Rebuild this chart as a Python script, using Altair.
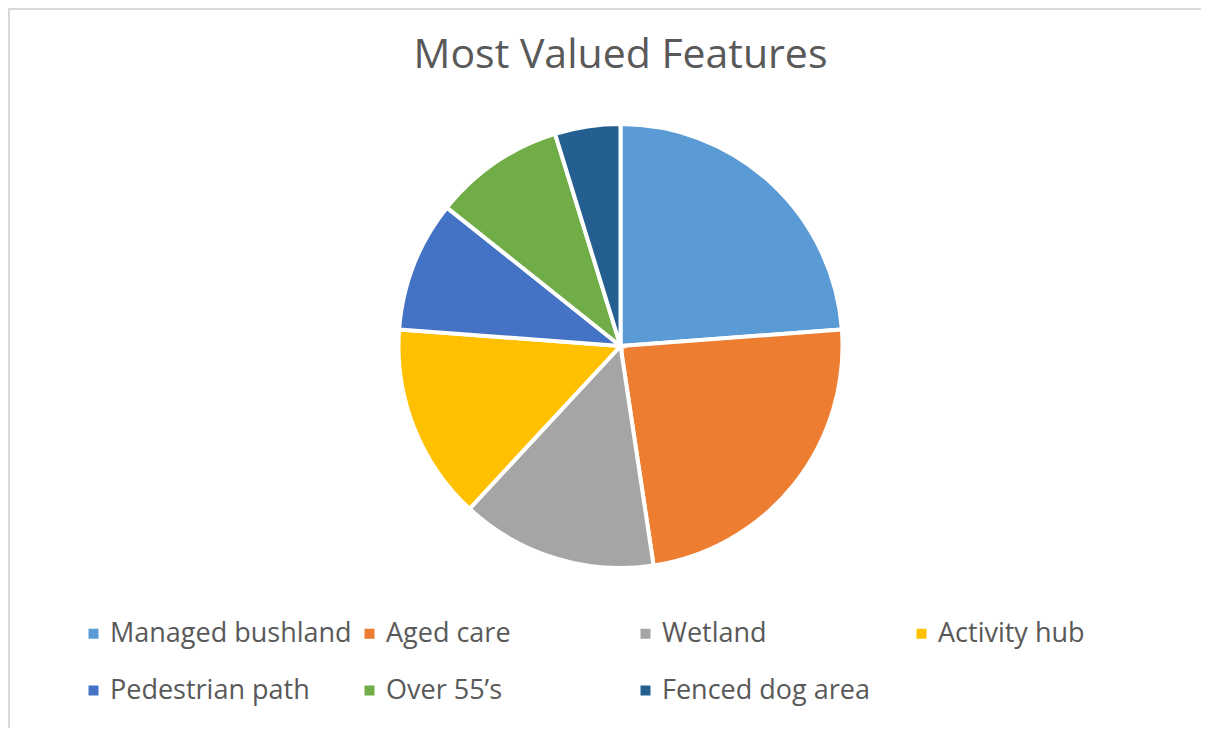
import altair as alt
import pandas as pd

categories = ["Managed bushland", "Aged care", "Wetland", "Activity hub",
              "Pedestrian path", "Over 55\u2019s", "Fenced dog area"]
values = [5, 5, 3, 3, 2, 2, 1]
colors = ["#5B9BD5", "#ED7D31", "#A5A5A5", "#FFC000", "#4472C4", "#70AD47", "#255E91"]
title_text = "Most Valued Features"

df = pd.DataFrame({"feature": categories, "value": values, "order": list(range(len(categories)))})

W, H = 1193, 720
CX, CY, R = 612.5, 338, 222
FONT = "Open Sans"

pie = alt.Chart(df).mark_arc(radius=R, stroke="white", strokeWidth=4).encode(
    theta=alt.Theta("value:Q", stack=True),
    order=alt.Order("order:Q"),
    x=alt.value(CX),
    y=alt.value(CY),
    color=alt.Color(
        "feature:N",
        scale=alt.Scale(domain=categories, range=colors),
        sort=None,
        legend=alt.Legend(
            title=None,
            orient="none",
            legendX=72,
            legendY=612,
            direction="horizontal",
            columns=4,
            gridAlign="all",
            columnPadding=4,
            rowPadding=29,
            symbolType="square",
            symbolSize=100,
            symbolStrokeWidth=0,
            labelFont=FONT,
            labelFontSize=27,
            labelColor="#595959",
            labelOffset=3,
            labelLimit=400,
        ),
    ),
)

title_df = pd.DataFrame({"t": [title_text]})
title = alt.Chart(title_df).mark_text(
    font=FONT, fontSize=41, color="#595959", align="center", baseline="alphabetic"
).encode(text="t:N", x=alt.value(CX), y=alt.value(60))

border_top = alt.Chart(title_df).mark_rule(color="#d9d9d9", strokeWidth=2).encode(
    x=alt.value(0), x2=alt.value(W), y=alt.value(1)
)
border_left = alt.Chart(title_df).mark_rule(color="#d9d9d9", strokeWidth=2).encode(
    x=alt.value(1), y=alt.value(0), y2=alt.value(H)
)

chart = alt.layer(border_top, border_left, pie, title).properties(
    width=W, height=H, padding=0, autosize=alt.AutoSizeParams(type="none")
).configure_view(stroke=None).configure(background="white")

chart.save("out.html", embed_options={"renderer": "svg", "actions": False})
